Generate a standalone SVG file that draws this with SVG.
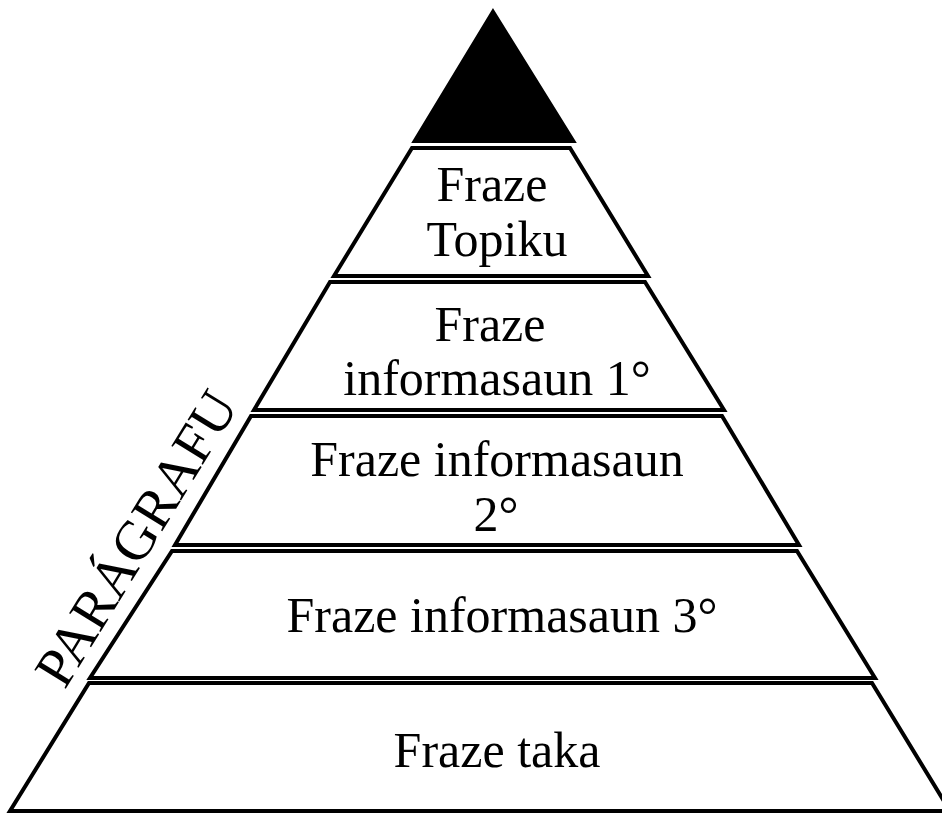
<svg xmlns="http://www.w3.org/2000/svg" width="942" height="814" viewBox="0 0 942 814">
<style>
.layer{fill:#fff;stroke:#000;stroke-width:4;stroke-linejoin:miter}
.t{font-family:"Liberation Serif","Times New Roman",serif;font-size:50px;fill:#000;text-anchor:middle}
.side{font-size:56px}
</style>
<rect width="942" height="814" fill="#fff"/>
<g id="apex"><polygon points="493,10 575,142 413,142" fill="#000" stroke="#000" stroke-width="2"/></g>
<g id="layer1"><polygon class="layer" points="412,148 570,148 648,276 334,276"/>
<text class="t" x="492" y="201">Fraze</text><text class="t" x="497" y="256">Topiku</text></g>
<g id="layer2"><polygon class="layer" points="330,282 645,282 724,410 254,410"/>
<text class="t" x="490" y="341">Fraze</text><text class="t" x="497" y="395">informasaun 1°</text></g>
<g id="layer3"><polygon class="layer" points="251,416 722,416 799,545 175,545"/>
<text class="t" x="497" y="476">Fraze informasaun</text><text class="t" x="496" y="531">2°</text></g>
<g id="layer4"><polygon class="layer" points="172,551 797,551 875,678 90,678"/>
<text class="t" x="502" y="632">Fraze informasaun 3°</text></g>
<g id="layer5"><polygon class="layer" points="89,683 872,683 950,811 10,811"/>
<text class="t" x="497" y="767">Fraze taka</text></g>
<g id="label"><text class="t side" transform="translate(152,548) rotate(-58.5)" x="0" y="0">PARÁGRAFU</text></g>
</svg>
